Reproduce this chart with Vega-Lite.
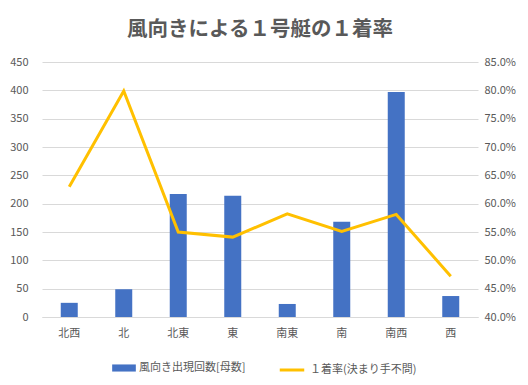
{
  "$schema": "https://vega.github.io/schema/vega-lite/v6.json",
  "width": 436,
  "height": 255,
  "autosize": {"type": "none"},
  "padding": {"left": 42, "top": 62, "right": 50, "bottom": 68},
  "background": "white",
  "title": {
    "text": "風向きによる１号艇の１着率",
    "fontSize": 20.5,
    "font": "Noto Sans CJK JP",
    "fontWeight": "bold",
    "color": "#595959",
    "offset": 16,
    "anchor": "middle"
  },
  "config": {
    "font": "Noto Sans CJK JP",
    "view": {"stroke": null},
    "axis": {"labelColor": "#595959", "labelFontSize": 11, "ticks": false, "domain": false, "title": null},
    "legend": {"labelColor": "#595959", "labelFontSize": 11}
  },
  "data": {
    "values": [
      {"dir": "北西", "count": 25, "rate": 0.630},
      {"dir": "北", "count": 49, "rate": 0.799},
      {"dir": "北東", "count": 217, "rate": 0.550},
      {"dir": "東", "count": 214, "rate": 0.541},
      {"dir": "南東", "count": 23, "rate": 0.582},
      {"dir": "南", "count": 168, "rate": 0.551},
      {"dir": "南西", "count": 397, "rate": 0.581},
      {"dir": "西", "count": 37, "rate": 0.472}
    ]
  },
  "encoding": {
    "x": {
      "field": "dir",
      "type": "nominal",
      "sort": null,
      "axis": {"labelAngle": 0, "domain": true, "domainColor": "#d9d9d9", "labelPadding": 10}
    }
  },
  "layer": [
    {
      "mark": {"type": "bar", "size": 17},
      "encoding": {
        "y": {
          "field": "count",
          "type": "quantitative",
          "scale": {"domain": [0, 450]},
          "axis": {"values": [0, 50, 100, 150, 200, 250, 300, 350, 400, 450], "grid": true, "gridColor": "#d9d9d9", "labelPadding": 14, "orient": "left"}
        },
        "color": {
          "datum": "風向き出現回数[母数]",
          "scale": {"range": ["#4472C4"]},
          "legend": {"orient": "none", "legendX": 70, "legendY": 294, "title": null, "symbolType": "M-1,-0.3H1V0.3H-1Z", "symbolSize": 560, "symbolStrokeWidth": 0, "labelOffset": 3}
        }
      }
    },
    {
      "mark": {"type": "line", "strokeWidth": 3, "color": "#FFC000"},
      "encoding": {
        "y": {
          "field": "rate",
          "type": "quantitative",
          "scale": {"domain": [0.4, 0.85]},
          "axis": {"orient": "right", "format": ".1%", "grid": false, "values": [0.4, 0.45, 0.5, 0.55, 0.6, 0.65, 0.7, 0.75, 0.8, 0.85], "labelPadding": 6}
        },
        "stroke": {
          "datum": "１着率(決まり手不問)",
          "scale": {"range": ["#FFC000"]},
          "legend": {"orient": "none", "legendX": 236, "legendY": 294, "title": null, "symbolType": "stroke", "symbolStrokeWidth": 3, "symbolSize": 600, "labelOffset": 4}
        }
      }
    }
  ],
  "resolve": {"scale": {"y": "independent"}}
}
